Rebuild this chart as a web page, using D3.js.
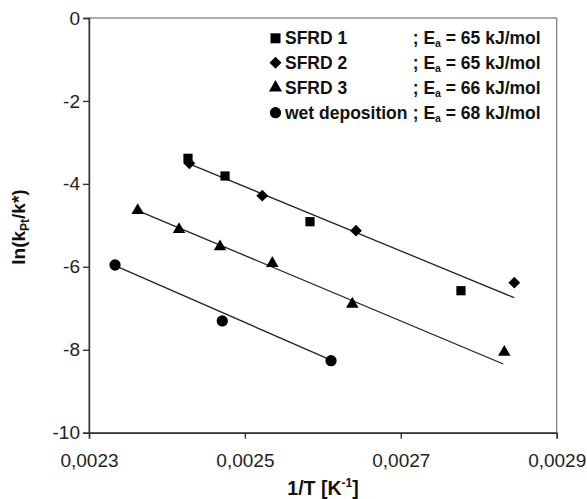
<!DOCTYPE html>
<html><head><meta charset="utf-8">
<script src="https://cdn.jsdelivr.net/npm/d3@7"></script>
<style>
body{margin:0;background:#fff;}
svg{display:block;font-family:"Liberation Sans",Arial,sans-serif;}
</style></head>
<body><svg id="c" width="587" height="499"></svg>
<script>
const xTicks = [0.0023, 0.0025, 0.0027, 0.0029];
const yTicks = [0, -2, -4, -6, -8, -10];

const sfrd1X = [0.002427, 0.0024745, 0.0025835, 0.0027772];
const sfrd1Y = [-3.383, -3.81, -4.912, -6.576];
const sfrd2X = [0.0024287, 0.0025223, 0.0026425, 0.0028456];
const sfrd2Y = [-3.504, -4.285, -5.129, -6.383];
const sfrd3X = [0.0023625, 0.0024155, 0.0024681, 0.0025352, 0.0026378, 0.0028328];
const sfrd3Y = [-4.64, -5.10, -5.515, -5.915, -6.897, -8.06];
const wetX = [0.0023334, 0.002471, 0.0026105];
const wetY = [-5.956, -7.306, -8.264];

const fit12X = [0.002427, 0.0028456], fit12Y = [-3.504, -6.745];
const fit3X = [0.0023625, 0.0028315], fit3Y = [-4.644, -8.343];
const fitWX = [0.0023334, 0.0026105], fitWY = [-5.973, -8.249];

const seriesNames = ["SFRD 1", "SFRD 2", "SFRD 3", "wet deposition"];
const eaValues = [65, 65, 66, 68];

const svg = d3.select("#c");
const L = 89, R = 556.7, T = 18, B = 432.7;
const x = d3.scaleLinear().domain([0.0023, 0.0029]).range([L, R]);
const y = d3.scaleLinear().domain([-10, 0]).range([B, T]);

// frame
svg.append("rect").attr("x", L).attr("y", T).attr("width", R - L).attr("height", B - T)
  .attr("fill", "none").attr("stroke", "#777").attr("stroke-width", 1.2);

const fmt = d => d3.format(".4f")(d).replace(".", ",");
const gx = svg.append("g").attr("transform", `translate(0,${B})`)
  .call(d3.axisBottom(x).tickValues(xTicks).tickFormat(fmt).tickSize(6).tickPadding(15));
const gy = svg.append("g").attr("transform", `translate(${L},0)`)
  .call(d3.axisLeft(y).tickValues(yTicks).tickFormat(d => d === 0 ? "0" : String(d)).tickSize(6).tickPadding(3));
[gx, gy].forEach(g => {
  g.select(".domain").attr("stroke", "#333").attr("stroke-width", 1.4);
  g.selectAll(".tick line").attr("stroke", "#333").attr("stroke-width", 1.4);
  g.selectAll(".tick text").attr("fill", "#222").style("font-size", "19px")
    .style("font-family", "'Liberation Sans',Arial,sans-serif");
});

// fit lines
const fits = [[fit12X, fit12Y], [fit3X, fit3Y], [fitWX, fitWY]];
const line = d3.line().x(d => x(d[0])).y(d => y(d[1]));
fits.forEach(([fx, fy]) => {
  svg.append("path").attr("d", line(fx.map((v, i) => [v, fy[i]])))
    .attr("fill", "none").attr("stroke", "#222").attr("stroke-width", 1.3);
});

// markers
const sym = [
  {type: d3.symbolSquare, size: 85, rot: 0},
  {type: d3.symbolSquare, size: 70, rot: 45},
  {type: d3.symbolTriangle, size: 68, rot: 0},
  {type: d3.symbolCircle, size: 100, rot: 0}
];
const series = [[sfrd1X, sfrd1Y], [sfrd2X, sfrd2Y], [sfrd3X, sfrd3Y], [wetX, wetY]];
series.forEach(([sx, sy], k) => {
  const s = sym[k];
  svg.append("g").selectAll("path").data(sx.map((v, i) => [v, sy[i]])).join("path")
    .attr("d", d3.symbol().type(s.type).size(s.size))
    .attr("transform", d => `translate(${x(d[0])},${y(d[1])}) rotate(${s.rot})`)
    .attr("fill", "#000");
});

// legend
const legY = [38.3, 62.8, 87.7, 112.7];
const lsym = [
  {type: d3.symbolSquare, size: 100, rot: 0},
  {type: d3.symbolSquare, size: 72, rot: 45},
  {type: d3.symbolTriangle, size: 75, rot: 0},
  {type: d3.symbolCircle, size: 100, rot: 0}
];
seriesNames.forEach((name, k) => {
  const cy = legY[k];
  svg.append("path").attr("d", d3.symbol().type(lsym[k].type).size(lsym[k].size))
    .attr("transform", `translate(275.5,${cy}) rotate(${lsym[k].rot})`).attr("fill", "#000");
  svg.append("text").attr("x", 285).attr("y", cy + 6)
    .attr("font-weight", "bold").attr("font-size", "17.5px").attr("fill", "#111").text(name);
  const t = svg.append("text").attr("x", 412.7).attr("y", cy + 6)
    .attr("font-weight", "bold").attr("font-size", "17.5px").attr("fill", "#111");
  t.append("tspan").text("; E");
  t.append("tspan").attr("font-size", "10.5px").attr("dy", 3).text("a");
  t.append("tspan").attr("dy", -3).text(` = ${eaValues[k]} kJ/mol`);
});

// axis titles
const xt = svg.append("text").attr("x", 323).attr("y", 495).attr("text-anchor", "middle")
  .attr("font-weight", "bold").attr("font-size", "19.5px").attr("fill", "#111");
xt.append("tspan").text("1/T [K");
xt.append("tspan").attr("font-size", "12px").attr("dy", -8).text("-1");
xt.append("tspan").attr("dy", 8).text("]");

const yt = svg.append("text").attr("transform", "translate(25,227) rotate(-90)").attr("text-anchor", "middle")
  .attr("font-weight", "bold").attr("font-size", "19px").attr("fill", "#111");
yt.append("tspan").text("ln(k");
yt.append("tspan").attr("font-size", "12px").attr("dy", 3.5).text("Pt");
yt.append("tspan").attr("dy", -3.5).text("/k*)");
</script></body></html>
